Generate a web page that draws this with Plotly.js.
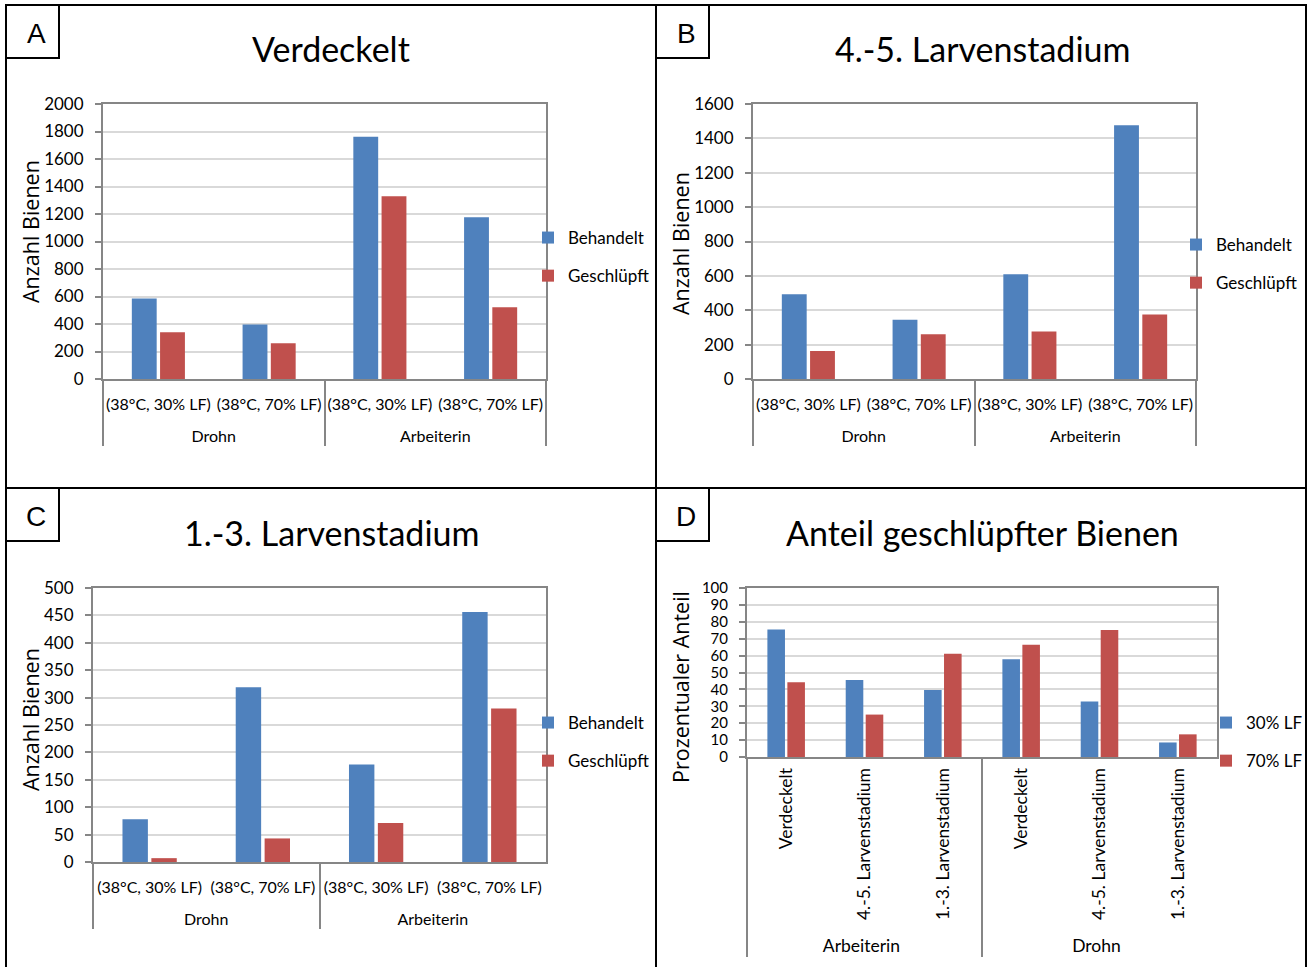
<!DOCTYPE html>
<html>
<head>
<meta charset="utf-8">
<script src="https://cdn.plot.ly/plotly-3.0.1.min.js"></script>
<style>html,body{margin:0;padding:0;background:#fff;}#chart{width:1309px;height:967px;}</style>
</head>
<body>
<div id="chart"></div>
<script>
// ---------- DATA ----------
const groupsABC = ['Drohn', 'Drohn', 'Arbeiterin', 'Arbeiterin'];
const condABC = ['(38°C, 30% LF)', '(38°C, 70% LF)', '(38°C, 30% LF)', '(38°C, 70% LF)'];

const verdeckeltBehandelt = [585, 396, 1762, 1177];
const verdeckeltGeschluepft = [340, 260, 1330, 522];

const larven45Behandelt = [493, 345, 609, 1476];
const larven45Geschluepft = [163, 260, 277, 376];

const larven13Behandelt = [78, 319, 178, 456];
const larven13Geschluepft = [7, 43, 71, 280];

const groupsD = ['Arbeiterin', 'Arbeiterin', 'Arbeiterin', 'Drohn', 'Drohn', 'Drohn'];
const stageD = ['Verdeckelt', '4.-5. Larvenstadium', '1.-3. Larvenstadium', 'Verdeckelt', '4.-5. Larvenstadium', '1.-3. Larvenstadium'];
const anteil30 = [75.4, 45.6, 39.7, 57.8, 32.8, 8.6];
const anteil70 = [44.2, 25.1, 61.1, 66.4, 75.2, 13.4];

const panelTitles = ['Verdeckelt', '4.-5. Larvenstadium', '1.-3. Larvenstadium', 'Anteil geschlüpfter Bienen'];
const panelLetters = ['A', 'B', 'C', 'D'];
const seriesNamesABC = ['Behandelt', 'Geschlüpft'];
const seriesNamesD = ['30% LF', '70% LF'];
const yTitles = ['Anzahl Bienen', 'Anzahl Bienen', 'Anzahl Bienen', 'Prozentualer Anteil'];

// ---------- STYLE ----------
const W = 1309, H = 967;
const BLUE = '#4F81BD', RED = '#C0504D';
const px = v => v / W;
const py = v => 1 - v / H;
const calib = 'Lato, "Open Sans", sans-serif';
const sans = '"Open Sans", "DejaVu Sans", sans-serif';

// primary labels get an empty second line so the group row sits lower (as in the original)
const condLabels = condABC.map(c => c + '<br> ');

function bar(x, y, name, color, xa, ya, legend, grp) {
  return {type: 'bar', x: x, y: y, name: name, xaxis: xa, yaxis: ya,
    legend: legend, legendgroup: grp,
    marker: {color: color, line: {color: color, width: 0}}, hoverinfo: 'x+y'};
}

const traces = [
  bar([groupsABC, condLabels], verdeckeltBehandelt, seriesNamesABC[0], BLUE, 'x', 'y', 'legend', 'a1'),
  bar([groupsABC, condLabels], verdeckeltGeschluepft, seriesNamesABC[1], RED, 'x', 'y', 'legend', 'a2'),
  bar([groupsABC, condLabels], larven45Behandelt, seriesNamesABC[0], BLUE, 'x2', 'y2', 'legend2', 'b1'),
  bar([groupsABC, condLabels], larven45Geschluepft, seriesNamesABC[1], RED, 'x2', 'y2', 'legend2', 'b2'),
  bar([groupsABC, condLabels], larven13Behandelt, seriesNamesABC[0], BLUE, 'x3', 'y3', 'legend3', 'c1'),
  bar([groupsABC, condLabels], larven13Geschluepft, seriesNamesABC[1], RED, 'x3', 'y3', 'legend3', 'c2'),
  bar([groupsD, stageD], anteil30, seriesNamesD[0], BLUE, 'x4', 'y4', 'legend4', 'd1'),
  bar([groupsD, stageD], anteil70, seriesNamesD[1], RED, 'x4', 'y4', 'legend4', 'd2')
];

function xax(domain, anchor, tickangle, fsize, standoff) {
  return {domain: domain, anchor: anchor, type: 'multicategory', showline: true, mirror: true,
    linecolor: '#868686', linewidth: 2, showgrid: false, zeroline: false, ticks: '',
    dividercolor: '#868686', dividerwidth: 2, showdividers: true, ticklabelstandoff: standoff,
    tickfont: {family: calib, size: fsize, color: '#000'}, tickangle: tickangle, fixedrange: true};
}
function yax(domain, anchor, range, dtick, fsize) {
  return {domain: domain, anchor: anchor, range: range, dtick: dtick, showline: true, mirror: true,
    linecolor: '#868686', linewidth: 2, showgrid: true, gridcolor: '#D9D9D9', gridwidth: 2,
    zeroline: false, ticks: 'outside', ticklen: 6, tickwidth: 2, tickcolor: '#868686',
    ticklabelstandoff: 8,
    tickfont: {family: calib, size: fsize, color: '#000'}, fixedrange: true};
}

const yA = [py(379), py(104)];
const yD = [py(757), py(588)];
const yC = [py(862), py(588)];

function leg(x, y) {
  return {x: px(x), y: py(y), xanchor: 'left', yanchor: 'top', bgcolor: 'rgba(0,0,0,0)',
    font: {family: calib, size: 17, color: '#000'}, tracegroupgap: 13, traceorder: 'grouped',
    itemwidth: 30, itemclick: false, itemdoubleclick: false};
}

const shapes = [];
const panels = [[6, 5, 656, 488], [656, 5, 1306, 488], [6, 488, 656, 975], [656, 488, 1306, 975]];
panels.forEach(p => {
  shapes.push({type: 'rect', xref: 'paper', yref: 'paper', x0: px(p[0]), x1: px(p[2]), y0: py(p[1]), y1: py(p[3]),
    line: {color: '#000', width: 2}, layer: 'above'});
  shapes.push({type: 'rect', xref: 'paper', yref: 'paper', x0: px(p[0]), x1: px(p[0] + 53), y0: py(p[1]), y1: py(p[1] + 53),
    line: {color: '#000', width: 2}, layer: 'above'});
});

const annotations = [];
const titlePos = [[331, 49], [982, 49], [331, 532], [982, 532]];
const yTitlePos = [[30, 232], [680, 243], [30, 720], [680, 687]];
panelTitles.forEach((t, i) => {
  annotations.push({text: t, xref: 'paper', yref: 'paper', x: px(titlePos[i][0]), y: py(titlePos[i][1]),
    xanchor: 'center', yanchor: 'middle', showarrow: false, font: {family: calib, size: 34, color: '#000'}});
  annotations.push({text: panelLetters[i], xref: 'paper', yref: 'paper', x: px(panels[i][0] + 30), y: py(panels[i][1] + 28),
    xanchor: 'center', yanchor: 'middle', showarrow: false, font: {family: '"Liberation Sans", Arial, sans-serif', size: 28, color: '#000'}});
  annotations.push({text: yTitles[i], xref: 'paper', yref: 'paper', x: px(yTitlePos[i][0]), y: py(yTitlePos[i][1]),
    xanchor: 'center', yanchor: 'middle', textangle: -90, showarrow: false,
    font: {family: sans, size: 21.5, color: '#000'}});
});

const layout = {
  width: W, height: H, margin: {l: 0, r: 0, t: 0, b: 0}, paper_bgcolor: '#fff', plot_bgcolor: '#fff',
  barmode: 'group', bargap: 0.49, bargroupgap: 0.12, showlegend: true,
  xaxis: xax([px(103), px(546)], 'y', 0, 16, 10),
  yaxis: yax(yA, 'x', [0, 2000], 200, 17),
  xaxis2: xax([px(753), px(1196)], 'y2', 0, 16, 10),
  yaxis2: yax(yA, 'x2', [0, 1600], 200, 17),
  xaxis3: xax([px(93), px(546)], 'y3', 0, 16, 10),
  yaxis3: yax(yC, 'x3', [0, 500], 50, 17),
  xaxis4: xax([px(747), px(1217)], 'y4', -90, 17.5, 2),
  yaxis4: yax(yD, 'x4', [0, 100], 10, 15),
  legend: leg(528, 220),
  legend2: leg(1176, 227),
  legend3: leg(528, 705),
  legend4: leg(1206, 705),
  shapes: shapes,
  annotations: annotations
};

Plotly.newPlot('chart', traces, layout, {displayModeBar: false, staticPlot: true});
</script>
</body>
</html>
